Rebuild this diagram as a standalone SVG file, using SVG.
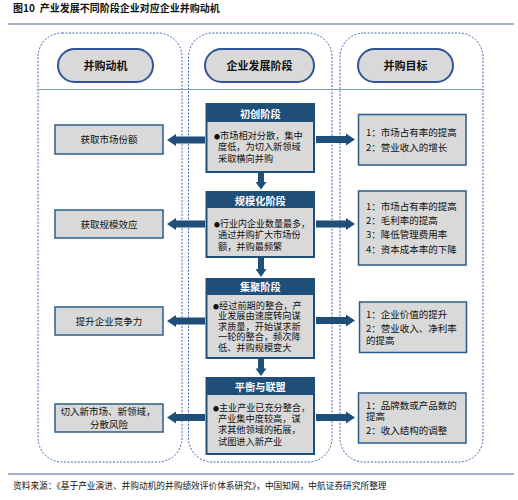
<svg xmlns="http://www.w3.org/2000/svg" width="518" height="500" viewBox="0 0 518 500">
<defs>
<style>
text{font-family:"Noto Sans CJK SC","Noto Sans",sans-serif;fill:#111}
.title{font-size:10px;font-weight:bold}
.src{font-size:8.7px}
.rule{stroke:#8497c4;stroke-width:1.5}
.col{fill:none;stroke:#4466a8;stroke-width:1;stroke-dasharray:2 1.5}
.pill{fill:#d9d9d9;stroke:#2f5597;stroke-width:2}
.pt{font-size:11px;font-weight:bold;text-anchor:middle}
.box{fill:#d9d9d9;stroke:#2e5c8a;stroke-width:1.5}
.bt{font-size:9.5px;text-anchor:middle}
.t{font-size:9.5px}
.sb{fill:#1f4e79}
.sbody{fill:#d9d9d9}
.ht{font-size:10.2px;font-weight:bold;fill:#fff;text-anchor:middle}
.st{font-size:9.2px}
.dot{font-size:6px}
.arr{fill:#1f4e79}
</style>
</defs>
<rect width="518" height="500" fill="#fff"/>
<text class="title" x="13" y="12">图10<tspan dx="5">产业发展不同阶段企业对应企业并购动机</tspan></text>
<line class="rule" x1="8" y1="24" x2="514" y2="24"/>
<line class="rule" x1="8" y1="474" x2="514" y2="474"/>
<text class="src" x="13" y="489">资料来源：《基于产业演进、并购动机的并购绩效评价体系研究》，中国知网，中航证券研究所整理</text>

<g id="columns">
<rect class="col" x="38" y="33" width="144" height="429" rx="24"/>
<rect class="col" x="188.5" y="33" width="143.5" height="429" rx="24"/>
<rect class="col" x="340" y="33" width="143" height="429" rx="24"/>
<line x1="38" y1="89.5" x2="483" y2="89.5" stroke="#8497c4" stroke-width="1.2"/>
</g>

<g id="pill-motive"><rect class="pill" x="58" y="49" width="95" height="33" rx="16.5"/><text class="pt" x="105.5" y="69.5">并购动机</text></g>
<g id="pill-stage"><rect class="pill" x="205" y="49" width="109" height="33" rx="16.5"/><text class="pt" x="259.5" y="69.5">企业发展阶段</text></g>
<g id="pill-goal"><rect class="pill" x="358" y="49" width="95" height="33" rx="16.5"/><text class="pt" x="405.5" y="69.5">并购目标</text></g>

<g id="m1"><rect class="box" x="55" y="125" width="108" height="29"/><text class="bt" x="109" y="143">获取市场份额</text></g>
<g id="m2"><rect class="box" x="55" y="210" width="108" height="28"/><text class="bt" x="109" y="227.5">获取规模效应</text></g>
<g id="m3"><rect class="box" x="55" y="307" width="108" height="28"/><text class="bt" x="109" y="324.5">提升企业竞争力</text></g>
<g id="m4"><rect class="box" x="55" y="404" width="108" height="28"/><text class="bt" x="108" y="415">切入新市场、新领域，</text><text class="bt" x="109" y="427.5">分散风险</text></g>

<g id="s1"><rect class="sb" x="205.5" y="103" width="109.5" height="70"/><rect class="sbody" x="207.5" y="122" width="105.5" height="49"/>
<text class="ht" x="260.3" y="117.5">初创阶段</text>
<text class="st" x="214" y="138.5"><tspan class="dot">●</tspan>市场相对分散，集中</text>
<text class="st" x="218" y="150">度低，为切入新领域</text>
<text class="st" x="218" y="161.5">采取横向并购</text></g>

<g id="s2"><rect class="sb" x="205.5" y="191" width="109.5" height="67"/><rect class="sbody" x="207.5" y="208" width="105.5" height="48"/>
<text class="ht" x="260.3" y="204.5">规模化阶段</text>
<text class="st" x="214" y="226.5" textLength="96" lengthAdjust="spacingAndGlyphs"><tspan class="dot">●</tspan>行业内企业数量最多，</text>
<text class="st" x="218" y="238.3">通过并购扩大市场份</text>
<text class="st" x="218" y="249.5">额，并购最频繁</text></g>

<g id="s3"><rect class="sb" x="205.5" y="278" width="109.5" height="81"/><rect class="sbody" x="207.5" y="295" width="105.5" height="62"/>
<text class="ht" x="260.3" y="290.5">集聚阶段</text>
<text class="st" x="213" y="308.5"><tspan class="dot">●</tspan>经过前期的整合，产</text>
<text class="st" x="218" y="319.2">业发展由速度转向谋</text>
<text class="st" x="218" y="329.8">求质量，开始谋求新</text>
<text class="st" x="218" y="340.4">一轮的整合，频次降</text>
<text class="st" x="218" y="351.4">低、并购规模变大</text></g>

<g id="s4"><rect class="sb" x="205.5" y="377" width="109.5" height="78"/><rect class="sbody" x="207.5" y="395" width="105.5" height="58"/>
<text class="ht" x="260.3" y="390.5">平衡与联盟</text>
<text class="st" x="213" y="411.2" textLength="97" lengthAdjust="spacingAndGlyphs"><tspan class="dot">●</tspan>主业产业已充分整合，</text>
<text class="st" x="218" y="421.8">产业集中度较高，谋</text>
<text class="st" x="218" y="433">求其他领域的拓展，</text>
<text class="st" x="218" y="445.2">试图进入新产业</text></g>

<g id="g1"><rect class="box" x="358.5" y="114.5" width="107.5" height="50.5"/>
<text class="t" x="366" y="136">1：市场占有率的提高</text>
<text class="t" x="366" y="150.5">2：营业收入的增长</text></g>
<g id="g2"><rect class="box" x="358.5" y="191" width="107.5" height="74"/>
<text class="t" x="366" y="210">1：市场占有率的提高</text>
<text class="t" x="366" y="224">2：毛利率的提高</text>
<text class="t" x="366" y="238.3">3：降低管理费用率</text>
<text class="t" x="366" y="252.5">4：资本成本率的下降</text></g>
<g id="g3"><rect class="box" x="359.5" y="302" width="107" height="50.5"/>
<text class="t" x="366" y="317.5">1：企业价值的提升</text>
<text class="t" x="366" y="332.3">2：营业收入、净利率</text>
<text class="t" x="366" y="344">的提高</text></g>
<g id="g4"><rect class="box" x="358.5" y="393" width="107.5" height="50"/>
<text class="t" x="366" y="409">1：品牌数或产品数的</text>
<text class="t" x="366" y="420">提高</text>
<text class="t" x="366" y="434">2：收入结构的调整</text></g>

<g id="connectors">
<polygon class="arr" points="167,140 176,134 176,136.5 205,136.5 205,143.5 176,143.5 176,146"/>
<polygon class="arr" points="167,224 176,218 176,220.5 205,220.5 205,227.5 176,227.5 176,230"/>
<polygon class="arr" points="167,321 176,315 176,317.5 205,317.5 205,324.5 176,324.5 176,327"/>
<polygon class="arr" points="167,417.5 176,411.5 176,414 205,414 205,421 176,421 176,423.5"/>
<polygon class="arr" points="316,136 346,136 346,133.5 355,139.5 346,145.5 346,143 316,143"/>
<polygon class="arr" points="316,220.5 346,220.5 346,218 355,224 346,230 346,227.5 316,227.5"/>
<polygon class="arr" points="316,317 346,317 346,314.5 355,320.5 346,326.5 346,324 316,324"/>
<polygon class="arr" points="316,414 346,414 346,411.5 355,417.5 346,423.5 346,421 316,421"/>
<polygon class="arr" points="258,173 264,173 264,182 266.5,182 261,189.5 255.5,182 258,182"/>
<polygon class="arr" points="258,258 264,258 264,269 266.5,269 261,277 255.5,269 258,269"/>
<polygon class="arr" points="258,359 264,359 264,368.5 266.5,368.5 261,376 255.5,368.5 258,368.5"/>
</g>
</svg>
